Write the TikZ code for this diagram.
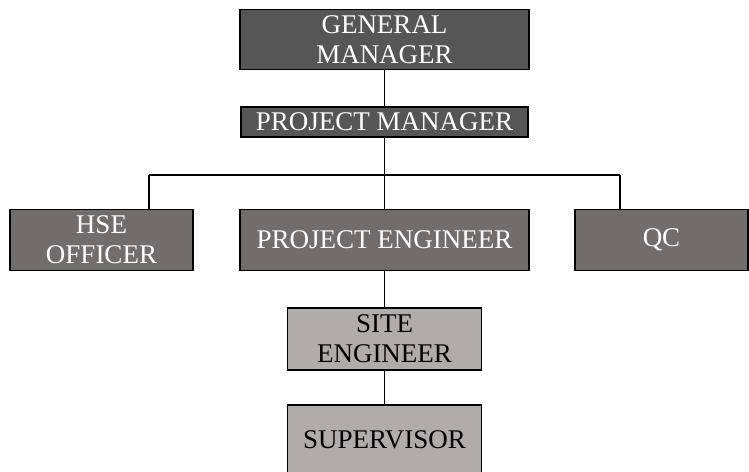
\documentclass[tikz,border=0pt]{standalone}
\usepackage{fontspec}
\setmainfont{Liberation Serif}
\usetikzlibrary{positioning}
\definecolor{topgray}{HTML}{565656}
\definecolor{midgray}{HTML}{716D6C}
\definecolor{lowgray}{HTML}{B0ACAB}

\begin{document}
\begin{tikzpicture}[x=1pt, y=-1pt, font=\fontsize{27}{30}\selectfont,
  box/.style={draw, line width=1.8pt, align=center, inner sep=0pt},
  topbox/.style={box, fill=topgray, text=white},
  midbox/.style={box, fill=midgray, text=white},
  lowbox/.style={box, fill=lowgray, text=black},
  link/.style={line width=1.2pt}]
  \useasboundingbox (0,0) rectangle (749,471);
  \node[topbox, minimum width=289pt, minimum height=60pt] (gm) at (384.5,39.5) {GENERAL\\MANAGER};
  \node[topbox, minimum width=287pt, minimum height=30pt] (pm) at (384.5,122) {PROJECT MANAGER};
  \node[midbox, minimum width=183pt, minimum height=61pt] (hse) at (101.5,240) {HSE\\OFFICER};
  \node[midbox, minimum width=289pt, minimum height=61pt] (pe) at (384.5,240) {PROJECT ENGINEER};
  \node[midbox, minimum width=173pt, minimum height=61pt] (qc) at (661.5,240) {QC};
  \node[lowbox, minimum width=194pt, minimum height=62pt] (se) at (384.5,339) {SITE\\ENGINEER};
  \node[lowbox, minimum width=194pt, minimum height=70pt] (sup) at (384.5,440) {SUPERVISOR};
  % bus between the levels
  \coordinate (bus) at (384.5,175);
  \coordinate (hsedrop) at (149,175);
  \coordinate (qcdrop) at (620,175);
  \draw[link] (gm.south) -- (pm.north);
  \draw[link] (pm.south) -- (bus);
  \draw[link] (hsedrop) -- (qcdrop);
  \draw[link] (hsedrop) -- (hsedrop |- hse.north);
  \draw[link] (qcdrop) -- (qcdrop |- qc.north);
  \draw[link] (bus) -- (pe.north);
  \draw[link] (pe.south) -- (se.north);
  \draw[link] (se.south) -- (sup.north);
\end{tikzpicture}
\end{document}
